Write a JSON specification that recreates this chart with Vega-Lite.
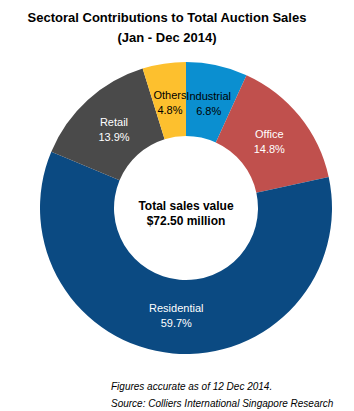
{
  "$schema": "https://vega.github.io/schema/vega-lite/v6.json",
  "padding": {"left": 16, "top": 12, "right": 0, "bottom": 0},
  "background": "white",
  "config": {"view": {"stroke": null}, "font": "Liberation Sans"},
  "title": {
    "text": ["Figures accurate as of 12 Dec 2014.", "Source: Colliers International Singapore Research"],
    "orient": "bottom", "anchor": "start", "dx": 95,
    "fontSize": 10, "fontStyle": "italic", "fontWeight": "normal",
    "lineHeight": 17, "offset": 15, "color": "black", "font": "Liberation Sans"
  },
  "vconcat": [
    {
      "title": {
        "text": ["Sectoral Contributions to Total Auction Sales", "(Jan - Dec 2014)"],
        "fontSize": 13, "fontWeight": "bold", "lineHeight": 20,
        "anchor": "middle", "dx": -19, "offset": 4, "color": "black", "font": "Liberation Sans"
      },
      "width": 340,
      "height": 318,
      "data": {
        "values": [
          {"sector": "Industrial", "share": 0.068, "rank": 1},
          {"sector": "Office", "share": 0.148, "rank": 2},
          {"sector": "Residential", "share": 0.597, "rank": 3},
          {"sector": "Retail", "share": 0.139, "rank": 4},
          {"sector": "Others", "share": 0.048, "rank": 5}
        ]
      },
      "layer": [
        {
          "mark": {"type": "arc", "innerRadius": 72, "outerRadius": 146},
          "encoding": {
            "theta": {"field": "share", "type": "quantitative", "stack": true},
            "order": {"field": "rank", "type": "quantitative"},
            "color": {
              "field": "sector", "type": "nominal", "legend": null,
              "scale": {
                "domain": ["Industrial", "Office", "Residential", "Retail", "Others"],
                "range": ["#0b8fd0", "#c0504d", "#0b4a82", "#4a4a4a", "#fdc02e"]
              }
            }
          }
        },
        {
          "mark": {"type": "text", "radius": 107, "dy": -6, "fontSize": 11},
          "encoding": {
            "theta": {"field": "share", "type": "quantitative", "stack": true},
            "order": {"field": "rank", "type": "quantitative"},
            "text": {"field": "sector", "type": "nominal"},
            "color": {
              "condition": {"test": "datum.sector === 'Industrial' || datum.sector === 'Others'", "value": "black"},
              "value": "white"
            }
          }
        },
        {
          "mark": {"type": "text", "radius": 107, "dy": 9, "fontSize": 11},
          "encoding": {
            "theta": {"field": "share", "type": "quantitative", "stack": true},
            "order": {"field": "rank", "type": "quantitative"},
            "text": {"field": "share", "type": "quantitative", "format": ".1%"},
            "color": {
              "condition": {"test": "datum.sector === 'Industrial' || datum.sector === 'Others'", "value": "black"},
              "value": "white"
            }
          }
        },
        {
          "data": {"values": [{"line1": "Total sales value", "line2": "$72.50 million"}]},
          "mark": {"type": "text", "fontSize": 12, "fontWeight": "bold", "dy": -2, "color": "black"},
          "encoding": {"text": {"field": "line1", "type": "nominal"}}
        },
        {
          "data": {"values": [{"line1": "Total sales value", "line2": "$72.50 million"}]},
          "mark": {"type": "text", "fontSize": 12, "fontWeight": "bold", "dy": 13, "color": "black"},
          "encoding": {"text": {"field": "line2", "type": "nominal"}}
        }
      ]
    }
  ]
}
